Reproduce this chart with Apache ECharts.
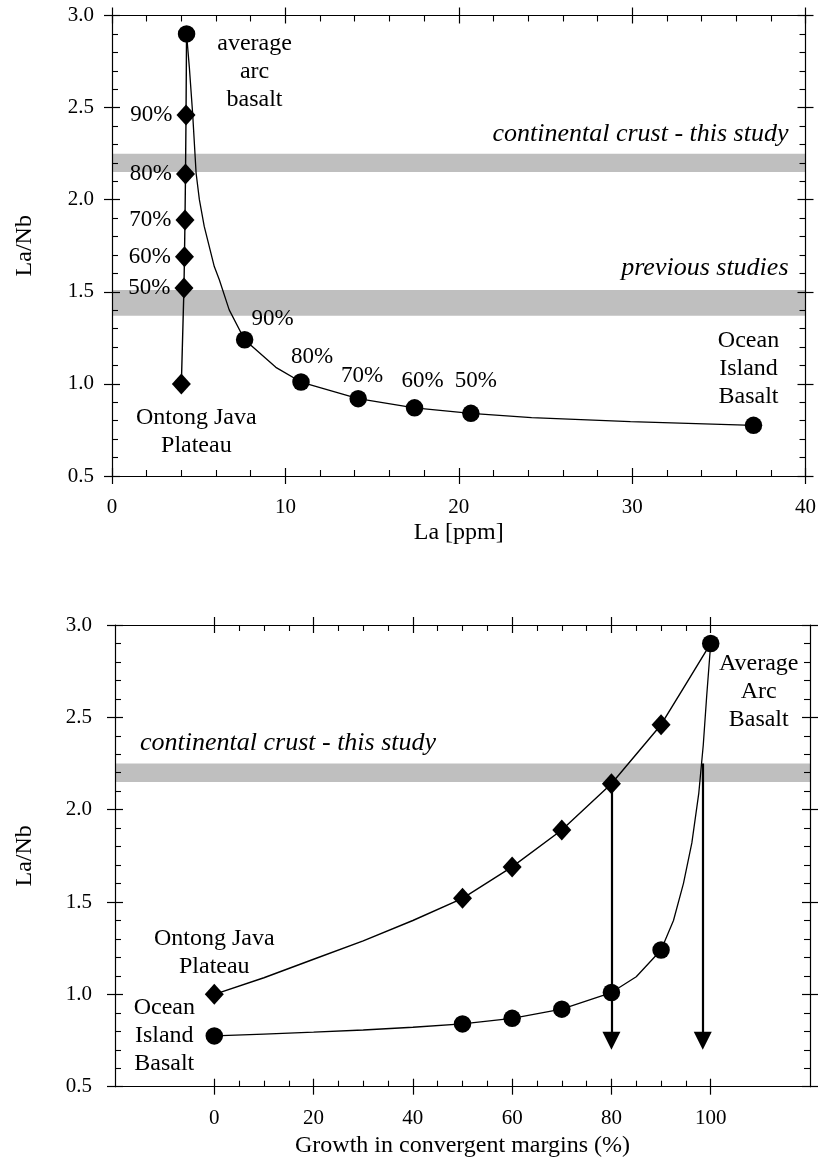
<!DOCTYPE html>
<html>
<head>
<meta charset="utf-8">
<title>La/Nb mixing models</title>
<script src="https://cdn.jsdelivr.net/npm/echarts@6/dist/echarts.min.js"></script>
<style>
  html, body { margin: 0; padding: 0; background: #fff; }
  #chart { width: 819px; height: 1160px; }
</style>
</head>
<body>
<div id="chart"></div>
<script>
// ---- data ----------------------------------------------------------------
// Marked mixtures: 0 % = end member, 50–90 % arc share, 100 % = average arc basalt
const mixGrowth   = [0, 50, 60, 70, 80, 90, 100];
const mixLabels   = ['', '50%', '60%', '70%', '80%', '90%', ''];
// Ontong Java Plateau – arc basalt mixtures (diamonds)
const ojpMixLa    = [4.0, 4.15, 4.18, 4.21, 4.24, 4.27, 4.3];
const ojpMixRatio = [1.00, 1.52, 1.69, 1.89, 2.14, 2.46, 2.90];
// Ocean island basalt – arc basalt mixtures (circles)
const oibMixLa    = [37.0, 20.7, 17.45, 14.2, 10.9, 7.65, 4.3];
const oibMixRatio = [0.775, 0.84, 0.87, 0.92, 1.01, 1.24, 2.90];

// Mixing curve OIB – arc basalt, La vs La/Nb
const topCurveLa    = [4.3, 4.46, 4.65, 4.85, 5.04, 5.32, 5.90, 6.19, 6.76, 7.65, 9.45, 10.9, 14.2, 17.45, 20.7, 24.2, 29.9, 37.0];
const topCurveRatio = [2.90, 2.72, 2.47, 2.145, 2.0, 1.855, 1.637, 1.565, 1.402, 1.24, 1.09, 1.01, 0.92, 0.87, 0.84, 0.817, 0.795, 0.775];

// Growth curves vs. share of convergent margins
const ojpCurveGrowth = [0, 10, 20, 30, 40, 50, 60, 70, 80, 90, 95, 100];
const ojpCurveRatio  = [1.00, 1.09, 1.19, 1.29, 1.40, 1.52, 1.69, 1.89, 2.14, 2.46, 2.68, 2.90];
const oibCurveGrowth = [0, 10, 20, 30, 40, 50, 60, 70, 80, 85, 90, 92.5, 94.5, 96.2, 97.6, 98.5, 99.2, 100];
const oibCurveRatio  = [0.775, 0.785, 0.795, 0.807, 0.822, 0.84, 0.87, 0.92, 1.01, 1.095, 1.24, 1.40, 1.60, 1.82, 2.09, 2.35, 2.62, 2.90];

// La/Nb ranges of the continental crust
const crustBand    = [2.15, 2.25];
const previousBand = [1.37, 1.51];

// Growth read-off arrows (tip at arrowTo)
const arrowGrowth = [80, 98.4];
const arrowFrom   = [2.14, 2.25];
const arrowTo     = 0.70;

// axis ranges and ticks
const laRange     = [0, 40, 10];
const growthFrame = [-20, 120];
const growthTicks = [0, 100, 20];
const ratioRange  = [0.5, 3.0, 0.5];

// ---- styling -------------------------------------------------------------
const INK = '#000';
const SERIF = '"Liberation Serif", "Times New Roman", serif';
const BAND = '#bfbfbf';
const TICK_FS = 21, NAME_FS = 24, NOTE_FS = 24, BAND_FS = 26;
const ARROW_HEAD = 18;

const topGrid = { left: 112, top: 15.5, width: 695.5, height: 460.5 };
const botGrid = { left: 115, top: 625, width: 695, height: 461.7 };
const pxPerGrowth = botGrid.width / (growthFrame[1] - growthFrame[0]);
const pxPerRatio = botGrid.height / (ratioRange[1] - ratioRange[0]);
const tickGrid = {
  left: botGrid.left + (growthTicks[0] - growthFrame[0]) * pxPerGrowth,
  top: botGrid.top,
  width: (growthTicks[1] - growthTicks[0]) * pxPerGrowth,
  height: botGrid.height
};

function axis(o) {
  const a = {
    type: 'value',
    gridIndex: o.grid,
    position: o.pos,
    min: o.range[0], max: o.range[1],
    axisLine: { show: !!o.line, onZero: false, lineStyle: { color: INK, width: 1.2 } },
    axisTick: { show: !!o.tick, inside: o.tick === 'in', length: 8, lineStyle: { color: INK, width: 1.2 } },
    minorTick: { show: !!o.minor, splitNumber: o.minor || 5, length: 6, lineStyle: { color: INK, width: 1.1 } },
    axisLabel: { show: false },
    splitLine: { show: false },
    minorSplitLine: { show: false },
    silent: true,
    z: 6
  };
  if (o.range[2] != null) a.interval = o.range[2];
  if (o.labels) {
    a.axisLabel = {
      show: true, color: INK, fontFamily: SERIF, fontSize: TICK_FS,
      margin: o.labelMargin,
      formatter: o.fmt
    };
  }
  if (o.name) {
    a.name = o.name;
    a.nameLocation = 'middle';
    a.nameGap = o.nameGap;
    a.nameTextStyle = { color: INK, fontFamily: SERIF, fontSize: NAME_FS };
  }
  return a;
}

const fmt1 = v => v.toFixed(1);
const fmt0 = v => String(v);
const frameRange = [growthFrame[0], growthFrame[1], null];

const xAxes = [
  // top panel (grid 0)
  axis({ grid: 0, pos: 'bottom', range: laRange, line: true, tick: 'in', minor: 5, labels: true, fmt: fmt0, labelMargin: 21, name: 'La [ppm]', nameGap: 45 }),
  axis({ grid: 0, pos: 'bottom', range: laRange, tick: 'out' }),
  axis({ grid: 0, pos: 'top', range: laRange, line: true, tick: 'in', minor: 5 }),
  axis({ grid: 0, pos: 'top', range: laRange, tick: 'out' }),
  // bottom panel frame (grid 1)
  axis({ grid: 1, pos: 'bottom', range: frameRange, line: true, name: 'Growth in convergent margins (%)', nameGap: 47 }),
  axis({ grid: 1, pos: 'top', range: frameRange, line: true }),
  // bottom panel ticks over 0–100 % (grid 2)
  axis({ grid: 2, pos: 'bottom', range: growthTicks, tick: 'in', minor: 4, labels: true, fmt: fmt0, labelMargin: 21 }),
  axis({ grid: 2, pos: 'bottom', range: growthTicks, tick: 'out' }),
  axis({ grid: 2, pos: 'top', range: growthTicks, tick: 'in', minor: 4 }),
  axis({ grid: 2, pos: 'top', range: growthTicks, tick: 'out' })
];

const yAxes = [
  axis({ grid: 0, pos: 'left', range: ratioRange, line: true, tick: 'in', minor: 5, labels: true, fmt: fmt1, labelMargin: 18, name: 'La/Nb', nameGap: 75 }),
  axis({ grid: 0, pos: 'left', range: ratioRange, tick: 'out' }),
  axis({ grid: 0, pos: 'right', range: ratioRange, line: true, tick: 'in', minor: 5 }),
  axis({ grid: 0, pos: 'right', range: ratioRange, tick: 'out' }),
  axis({ grid: 1, pos: 'left', range: ratioRange, line: true, tick: 'in', minor: 5, labels: true, fmt: fmt1, labelMargin: 23, name: 'La/Nb', nameGap: 78 }),
  axis({ grid: 1, pos: 'left', range: ratioRange, tick: 'out' }),
  axis({ grid: 1, pos: 'right', range: ratioRange, line: true, tick: 'in', minor: 5 }),
  axis({ grid: 1, pos: 'right', range: ratioRange, tick: 'out' }),
  axis({ grid: 2, pos: 'left', range: ratioRange })
];
yAxes[8].show = false;

// ---- helpers ---------------------------------------------------------------
const zip = (xs, ys) => xs.map((x, i) => [x, ys[i]]);
const noteText = { color: INK, fontFamily: SERIF, fontSize: NOTE_FS, lineHeight: 28, opacity: 1 };

function note(text, offset) {
  return Object.assign({ show: true, position: 'inside', formatter: text, offset }, noteText);
}

function curve(xi, yi, data, width) {
  return {
    type: 'line', xAxisIndex: xi, yAxisIndex: yi, data,
    showSymbol: false, symbol: 'none', smooth: false, silent: true,
    lineStyle: { color: INK, width: width || 1.3, opacity: 1 }, z: 3
  };
}

function markers(xi, yi, symbol, size, items) {
  return {
    type: 'scatter', xAxisIndex: xi, yAxisIndex: yi, symbol, symbolSize: size,
    itemStyle: { color: '#000', opacity: 1 }, silent: true, z: 4, data: items
  };
}

function bandArea(lo, hi, xMin, xMax, text, labelPos) {
  return [
    { xAxis: xMin, yAxis: lo,
      label: Object.assign({ show: !!text, formatter: text }, noteText,
        { fontStyle: 'italic', fontSize: BAND_FS }, labelPos) },
    { xAxis: xMax, yAxis: hi }
  ];
}

// ---- top panel items -------------------------------------------------------
const topDiamonds = ojpMixLa.slice(0, 6).map((la, i) => ({
  value: [la, ojpMixRatio[i]],
  label: i === 0
    ? note('Ontong Java\nPlateau', [15, 48])
    : Object.assign({ show: true, position: 'left', distance: 4, formatter: mixLabels[i] }, noteText, { fontSize: 23 })
}));

const topCircleOffsets = [[-5, -57], [5, -32], [8, -27], [4, -23], [11, -25], [28, -21], [68, 38]];
const topCircles = oibMixLa.map((la, i) => ({
  value: [la, oibMixRatio[i]],
  label: i === 0 ? note('Ocean\nIsland\nBasalt', topCircleOffsets[i])
       : (i === 6 ? note('average\narc\nbasalt', topCircleOffsets[i])
                  : Object.assign(note(mixLabels[i], topCircleOffsets[i]), { fontSize: 23 }))
}));

// ---- bottom panel items ----------------------------------------------------
const botDiamonds = mixGrowth.slice(0, 6).map((g, i) => ({
  value: [g, ojpMixRatio[i]],
  label: i === 0 ? note('Ontong Java\nPlateau', [0, -42]) : { show: false }
}));
const botCircles = mixGrowth.map((g, i) => ({
  value: [g, oibMixRatio[i]],
  label: i === 0 ? note('Ocean\nIsland\nBasalt', [-50, 0])
       : (i === 6 ? note('Average\nArc\nBasalt', [48, 48]) : { show: false })
}));

// the head symbol is centred on the line end, so the end sits half a head above the tip
const arrowEnd = arrowTo + (ARROW_HEAD / 2) / pxPerRatio;
const arrows = arrowGrowth.map((g, i) => [
  { coord: [g, arrowFrom[i]] },
  { coord: [g, arrowEnd] }
]);

// ---- option ----------------------------------------------------------------
const option = {
  backgroundColor: '#fff',
  animation: false,
  textStyle: { fontFamily: SERIF, color: INK },
  grid: [
    Object.assign({ containLabel: false }, topGrid),
    Object.assign({ containLabel: false }, botGrid),
    Object.assign({ containLabel: false }, tickGrid)
  ],
  xAxis: xAxes,
  yAxis: yAxes,
  series: [
    // shaded crust ranges, top panel
    {
      type: 'line', xAxisIndex: 0, yAxisIndex: 0, data: [], z: 1, silent: true,
      markArea: {
        silent: true,
        itemStyle: { color: BAND, opacity: 1 },
        data: [
          bandArea(crustBand[0], crustBand[1], laRange[0], laRange[1], 'continental crust - this study',
            { position: ['100%', 0], align: 'right', verticalAlign: 'bottom', offset: [-17, -5] }),
          bandArea(previousBand[0], previousBand[1], laRange[0], laRange[1], 'previous studies',
            { position: ['100%', 0], align: 'right', verticalAlign: 'bottom', offset: [-17, -8] })
        ]
      }
    },
    curve(0, 0, zip(ojpMixLa, ojpMixRatio), 1.4),
    curve(0, 0, zip(topCurveLa, topCurveRatio), 1.3),
    markers(0, 0, 'diamond', [19, 21], topDiamonds),
    markers(0, 0, 'circle', 17.5, topCircles),

    // shaded crust range, bottom panel
    {
      type: 'line', xAxisIndex: 4, yAxisIndex: 4, data: [], z: 1, silent: true,
      markArea: {
        silent: true,
        itemStyle: { color: BAND, opacity: 1 },
        data: [
          bandArea(crustBand[0], crustBand[1], growthFrame[0], growthFrame[1], 'continental crust - this study',
            { position: [0, 0], align: 'left', verticalAlign: 'bottom', offset: [25, -6] })
        ]
      }
    },
    curve(4, 4, zip(ojpCurveGrowth, ojpCurveRatio), 1.4),
    curve(4, 4, zip(oibCurveGrowth, oibCurveRatio), 1.3),
    {
      type: 'line', xAxisIndex: 4, yAxisIndex: 4, data: [], z: 3, silent: true,
      markLine: {
        silent: true,
        symbol: ['none', 'triangle'],
        symbolSize: ARROW_HEAD,
        label: { show: false },
        emphasis: { disabled: true },
        lineStyle: { color: '#000', width: 2.2, type: 'solid', opacity: 1 },
        itemStyle: { color: '#000' },
        data: arrows
      }
    },
    markers(4, 4, 'diamond', [19, 21], botDiamonds),
    markers(4, 4, 'circle', 17.5, botCircles)
  ]
};

const chart = echarts.init(document.getElementById('chart'), null, { renderer: 'canvas' });
chart.setOption(option);
</script>
</body>
</html>
